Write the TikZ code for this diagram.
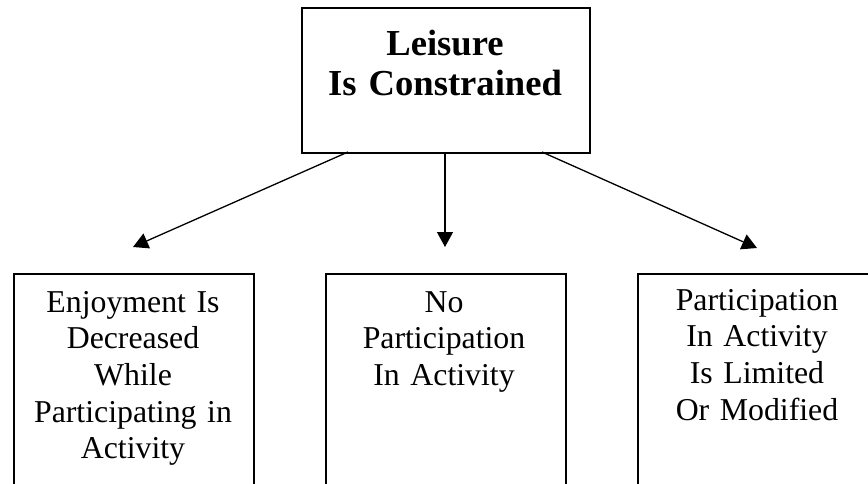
\documentclass[tikz,border=0pt]{standalone}
\usepackage{fontspec}
\setmainfont{Liberation Serif}
\usetikzlibrary{arrows.meta}
\begin{document}
\begin{tikzpicture}[x=1pt,y=-1pt,
  boxshape/.style={draw, line width=1.8pt, inner sep=0pt, anchor=north west},
  topbox/.style={boxshape, minimum width=288pt, minimum height=145pt},
  botbox/.style={boxshape, minimum width=240pt, minimum height=260pt},
  toptext/.style={anchor=base, align=center, text width=280pt, inner sep=0pt,
    font=\fontsize{36.6}{40}\selectfont\bfseries},
  bottext/.style={anchor=base, align=center, text width=232pt, inner sep=0pt,
    font=\fontsize{31.8}{36.7}\selectfont},
  conn/.style={line width=1.3pt, -{Triangle[length=15pt,width=16pt]}}
]
\useasboundingbox (0,0) rectangle (868,483);
\clip (0,0) rectangle (868,483);
% boxes
\node[topbox] (top) at (301,7) {};
\node[botbox] (left) at (13,273) {};
\node[botbox] (mid) at (325,273) {};
\node[botbox] (right) at (637,273) {};
% texts
\node[toptext] (toplbl) at (445,55) {Leisure\\Is Constrained};
\node[bottext] (leftlbl) at (133,312) {Enjoyment Is\\Decreased\\While\\Participating in\\Activity};
\node[bottext] (midlbl) at (444,312) {No\\Participation\\In Activity};
\node[bottext] (rightlbl) at (757,310) {Participation\\In Activity\\Is Limited\\Or Modified};
% connector endpoints
\coordinate (ls) at (348,152);
\coordinate (ms) at (445,152);
\coordinate (rs) at (542,152);
\coordinate (le) at (133,247);
\coordinate (me) at (445,247);
\coordinate (re) at (757,248);
\draw[conn] (ls) -- (le);
\draw[conn] (ms) -- (me);
\draw[conn] (rs) -- (re);
\end{tikzpicture}
\end{document}
